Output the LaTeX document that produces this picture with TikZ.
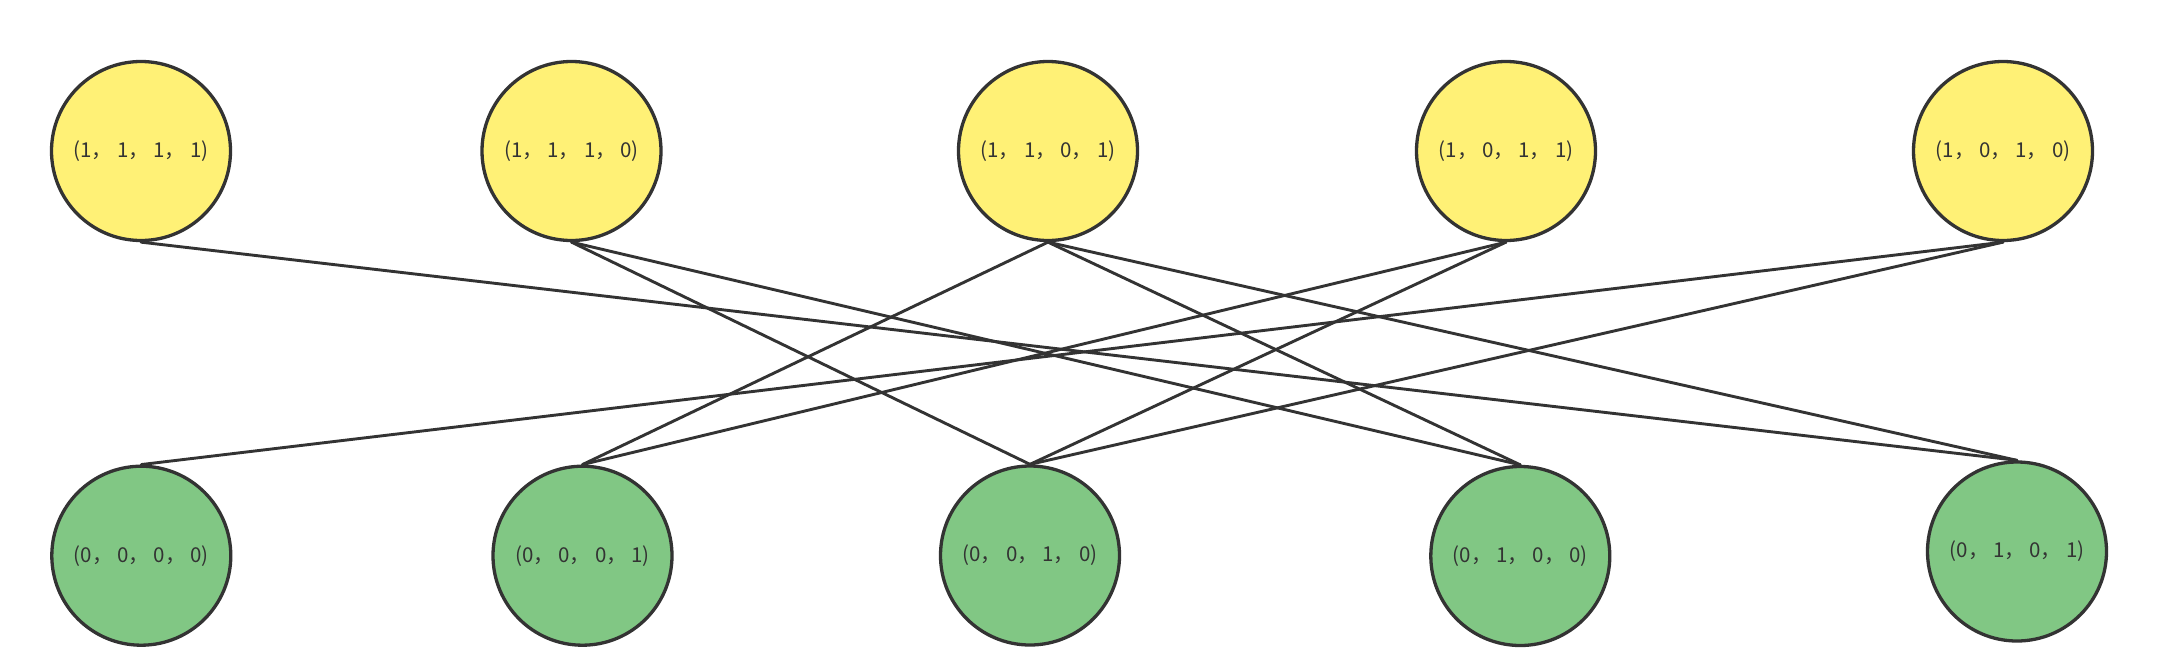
\documentclass[tikz,border=0pt]{standalone}
\usepackage{fontspec}
\newfontfamily\cjk{Noto Sans CJK SC}
\definecolor{nodeyellow}{RGB}{255,241,118}
\definecolor{nodegreen}{RGB}{129,199,132}
\definecolor{inkgray}{RGB}{51,51,51}
\tikzset{
  vert/.style={circle, draw=inkgray, line width=3.3pt, minimum size=179pt, inner sep=0pt,
    text=inkgray, font=\cjk\fontsize{20.5}{24}\selectfont},
  topv/.style={vert, fill=nodeyellow},
  botv/.style={vert, fill=nodegreen},
  link/.style={draw=inkgray, line width=2.9pt, line cap=round}
}
\begin{document}
\begin{tikzpicture}[x=1pt,y=-1pt]
\useasboundingbox (0,0) rectangle (2164,667);
% top row
\node[topv] (t1) at (141,151) {(1， 1， 1， 1)};
\node[topv] (t2) at (571.5,151) {(1， 1， 1， 0)};
\node[topv] (t3) at (1048,151) {(1， 1， 0， 1)};
\node[topv] (t4) at (1506,151) {(1， 0， 1， 1)};
\node[topv] (t5) at (2003,151) {(1， 0， 1， 0)};
% bottom row
\node[botv] (b1) at (141.3,555.7) {(0， 0， 0， 0)};
\node[botv] (b2) at (582.5,555.7) {(0， 0， 0， 1)};
\node[botv] (b3) at (1030,555.5) {(0， 0， 1， 0)};
\node[botv] (b4) at (1520.3,556) {(0， 1， 0， 0)};
\node[botv] (b5) at (2017,551.5) {(0， 1， 0， 1)};
% edges
\draw[link] (t1.south) -- (b5.north);
\draw[link] (t2.south) -- (b3.north);
\draw[link] (t2.south) -- (b4.north);
\draw[link] (t3.south) -- (b2.north);
\draw[link] (t3.south) -- (b4.north);
\draw[link] (t3.south) -- (b5.north);
\draw[link] (t4.south) -- (b2.north);
\draw[link] (t4.south) -- (b3.north);
\draw[link] (t5.south) -- (b1.north);
\draw[link] (t5.south) -- (b3.north);
\end{tikzpicture}
\end{document}
